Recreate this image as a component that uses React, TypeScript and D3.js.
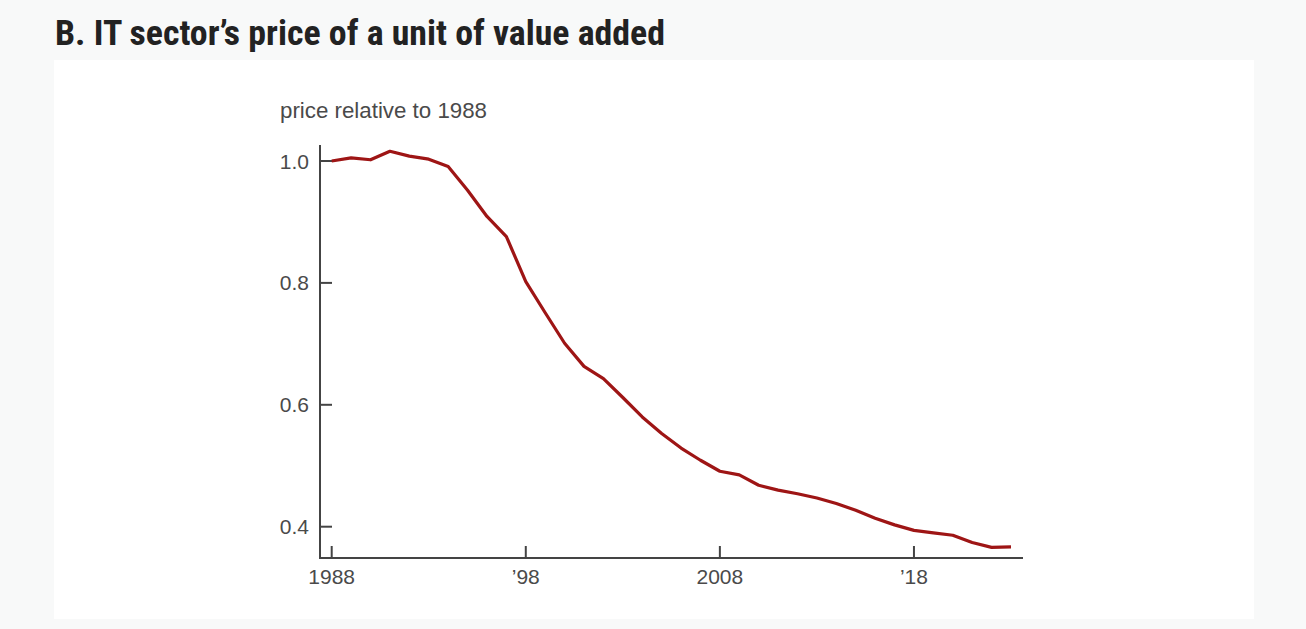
import { useEffect, useRef } from 'react';
import * as d3 from 'd3';

const years = [
  1988, 1989, 1990, 1991, 1992, 1993, 1994, 1995, 1996, 1997, 1998, 1999,
  2000, 2001, 2002, 2003, 2004, 2005, 2006, 2007, 2008, 2009, 2010, 2011,
  2012, 2013, 2014, 2015, 2016, 2017, 2018, 2019, 2020, 2021, 2022, 2023,
];
const price = [
  1.0, 1.005, 1.002, 1.016, 1.008, 1.003, 0.991, 0.952, 0.909, 0.876, 0.802, 0.751,
  0.701, 0.663, 0.643, 0.612, 0.58, 0.553, 0.529, 0.509, 0.491, 0.485, 0.468, 0.46,
  0.454, 0.447, 0.438, 0.427, 0.414, 0.403, 0.394, 0.39, 0.386, 0.374, 0.366, 0.367,
];
const yTicks = [0.4, 0.6, 0.8, 1.0];
const xTicks = [1988, 1998, 2008, 2018];
const xTickLabels = ['1988', '\u201998', '2008', '\u201918'];

const title = 'B. IT sector\u2019s price of a unit of value added';
const unitLabel = 'price relative to 1988';

export default function App() {
  const svgRef = useRef<SVGSVGElement>(null);

  useEffect(() => {
    if (!svgRef.current) return;
    const svg = d3.select(svgRef.current);
    svg.selectAll('*').remove();

    const width = 1306;
    const height = 629;
    const axisColor = '#444';
    const textColor = '#4a4a4a';
    const font = '"Liberation Sans", Arial, sans-serif';

    // page + panel
    svg.append('rect').attr('width', width).attr('height', height).attr('fill', '#f8f9f9');
    svg.append('rect')
      .attr('x', 54).attr('y', 60)
      .attr('width', 1200).attr('height', 559)
      .attr('fill', '#ffffff');

    // title
    svg.append('text')
      .attr('x', 55)
      .attr('y', 45)
      .attr('fill', '#222')
      .attr('font-family', '"Roboto Condensed", Roboto, sans-serif')
      .attr('font-weight', 700)
      .attr('font-size', 35)
      .attr('textLength', 610)
      .attr('lengthAdjust', 'spacingAndGlyphs')
      .text(title);

    const x = d3.scaleLinear().domain([1988, 2023]).range([331.7, 1011]);
    const y = d3.scaleLinear().domain([0.4, 1.0]).range([526.7, 161]);

    const x0 = 320;
    const y0 = 558;
    const xEnd = 1023;
    const yTop = 145;

    // unit label
    svg.append('text')
      .attr('x', 280)
      .attr('y', 118)
      .attr('fill', textColor)
      .attr('font-family', font)
      .attr('font-size', 22.3)
      .text(unitLabel);

    const g = svg.append('g');

    // axes
    g.append('path')
      .attr('d', `M${x0},${yTop}V${y0}H${xEnd}`)
      .attr('fill', 'none')
      .attr('stroke', axisColor)
      .attr('stroke-width', 2);

    yTicks.forEach((t) => {
      g.append('line')
        .attr('x1', x0).attr('x2', x0 + 12)
        .attr('y1', y(t)).attr('y2', y(t))
        .attr('stroke', axisColor).attr('stroke-width', 2);
      g.append('text')
        .attr('x', x0 - 11)
        .attr('y', y(t))
        .attr('dy', '0.36em')
        .attr('text-anchor', 'end')
        .attr('fill', textColor)
        .attr('font-family', font)
        .attr('font-size', 21)
        .text(d3.format('.1f')(t));
    });

    xTicks.forEach((t, i) => {
      g.append('line')
        .attr('x1', x(t)).attr('x2', x(t))
        .attr('y1', y0).attr('y2', y0 - 12)
        .attr('stroke', axisColor).attr('stroke-width', 2);
      g.append('text')
        .attr('x', x(t))
        .attr('y', 583.5)
        .attr('text-anchor', 'middle')
        .attr('fill', textColor)
        .attr('font-family', font)
        .attr('font-size', 21)
        .text(xTickLabels[i]);
    });

    // line
    const line = d3.line<number>()
      .x((_, i) => x(years[i]))
      .y((d) => y(d));

    g.append('path')
      .datum(price)
      .attr('d', line)
      .attr('fill', 'none')
      .attr('stroke', '#9e1515')
      .attr('stroke-width', 3.2)
      .attr('stroke-linejoin', 'round');
  }, []);

  return (
    <div style={{ position: 'absolute', top: 0, left: 0, width: 1306, height: 629 }}>
      <svg ref={svgRef} width={1306} height={629} style={{ display: 'block' }} />
    </div>
  );
}
